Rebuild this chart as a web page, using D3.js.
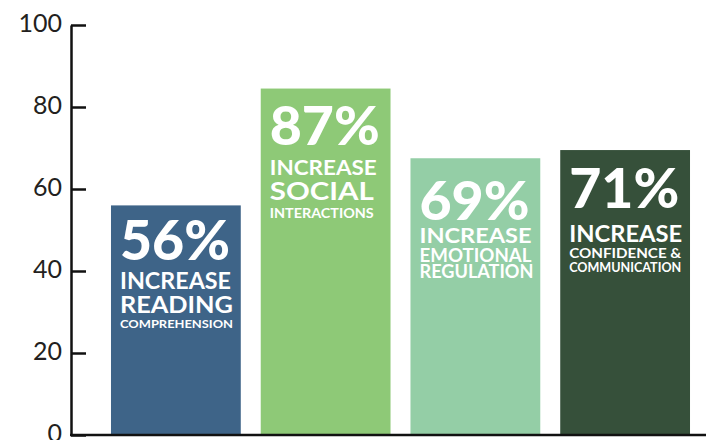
<!DOCTYPE html>
<html>
<head>
<meta charset="utf-8">
<script src="https://cdn.jsdelivr.net/npm/d3@7"></script>
<style>
  html, body { margin: 0; padding: 0; background: #fff; }
  svg { display: block; }
</style>
</head>
<body>
<svg id="chart"></svg>
<script>
// values (bar heights) and the printed labels
const categories = ["Reading", "Social", "Emotional", "Confidence"];
const barValues = [56, 84.5, 67.5, 69.5];
const pctLabels = ["56%", "87%", "69%", "71%"];
const captions = [
  ["INCREASE", "READING", "COMPREHENSION"],
  ["INCREASE", "SOCIAL", "INTERACTIONS"],
  ["INCREASE", "EMOTIONAL", "REGULATION"],
  ["INCREASE", "CONFIDENCE &", "COMMUNICATION"]
];
const yTicks = [0, 20, 40, 60, 80, 100];
const colors = ["#3e6488", "#8ec977", "#94cea6", "#36503a"];

// text layout inside each bar: [baseline offset from bar top, font size, fitted width]
const textLayout = [
  [[55, 55, 110], [84, 22, 111], [108, 22, 113], [123, 12, 113]],
  [[56, 53, 110], [86, 21, 107], [111, 25, 104], [129, 13, 104]],
  [[62, 53, 110], [85, 21, 112], [104, 19, 112], [120, 19, 114]],
  [[58, 55, 110], [92, 22, 113], [108, 14, 112], [122, 13, 112]]
];

const width = 706;
const height = 440;

const svg = d3.select("#chart")
  .attr("width", width)
  .attr("height", height);

const x = d3.scaleBand()
  .domain(categories)
  .range([101, 700])
  .paddingInner(0.1333)
  .paddingOuter(0.0667);

const y = d3.scaleLinear()
  .domain([0, 100])
  .range([435, 25]);

svg.selectAll(".bar")
  .data(barValues)
  .enter()
  .append("rect")
  .attr("class", "bar")
  .attr("x", (d, i) => x(categories[i]))
  .attr("y", d => y(d))
  .attr("width", x.bandwidth())
  .attr("height", d => y(0) - y(d))
  .attr("fill", (d, i) => colors[i]);

// labels inside bars
const labels = svg.selectAll(".label")
  .data(barValues)
  .enter()
  .append("g")
  .attr("class", "label")
  .attr("transform", (d, i) => `translate(${x(categories[i]) + 9},${y(d)})`);

labels.each(function(d, i) {
  const g = d3.select(this);
  const lines = [pctLabels[i]].concat(captions[i]);
  lines.forEach((t, j) => {
    const [dy, size, len] = textLayout[i][j];
    g.append("text")
      .attr("y", dy)
      .attr("font-family", "Lato, 'Open Sans', sans-serif")
      .attr("font-weight", j === 0 ? 900 : 700)
      .attr("font-size", size)
      .attr("fill", "#fff")
      .attr("textLength", len)
      .attr("lengthAdjust", "spacingAndGlyphs")
      .text(t);
  });
});

// y axis with ticks pointing into the plot
const yAxis = svg.append("g")
  .attr("transform", "translate(71,0)")
  .call(d3.axisLeft(y)
    .tickValues(yTicks)
    .tickSizeInner(-15)
    .tickSizeOuter(0)
    .tickPadding(9));

yAxis.select(".domain")
  .attr("stroke", "#111")
  .attr("stroke-width", 2.5);
yAxis.selectAll(".tick line")
  .attr("stroke", "#111")
  .attr("stroke-width", 2.5);
yAxis.selectAll(".tick text")
  .attr("font-family", "Lato, 'Open Sans', sans-serif")
  .attr("font-size", 25)
  .attr("fill", "#231f20")
  .attr("dy", "0.25em");

// baseline
svg.append("line")
  .attr("x1", 70)
  .attr("x2", width)
  .attr("y1", y(0))
  .attr("y2", y(0))
  .attr("stroke", "#111")
  .attr("stroke-width", 2.5);
</script>
</body>
</html>
